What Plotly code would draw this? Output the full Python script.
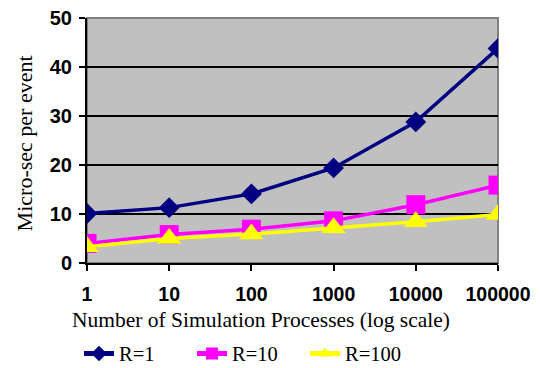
import plotly.graph_objects as go

categories = ["1", "10", "100", "1000", "10000", "100000"]
r1 = [10.1, 11.3, 14.1, 19.4, 28.8, 43.8]
r10 = [4.0, 5.8, 6.9, 8.6, 11.9, 15.9]
r100 = [3.3, 5.0, 5.9, 7.2, 8.4, 9.9]
y_ticks = [0, 10, 20, 30, 40, 50]

fig = go.Figure()
fig.add_trace(go.Scatter(x=categories, y=r1, name="R=1", mode="lines+markers",
                         line=dict(color="#000080", width=3.5),
                         marker=dict(symbol="diamond", size=16, color="#000080")))
fig.add_trace(go.Scatter(x=categories, y=r10, name="R=10", mode="lines+markers",
                         line=dict(color="#FF00FF", width=3.5),
                         marker=dict(symbol="square", size=19, color="#FF00FF")))
fig.add_trace(go.Scatter(x=categories, y=r100, name="R=100", mode="lines+markers",
                         line=dict(color="#FFFF00", width=3.5),
                         marker=dict(symbol="triangle-up", size=21, color="#FFFF00")))

fig.add_shape(type="rect", xref="paper", yref="paper", x0=0, x1=1, y0=0, y1=1,
              line=dict(color="#808080", width=2), layer="below")

serif = "Liberation Serif, Times New Roman, serif"
fig.add_annotation(text="Number of Simulation Processes (log scale)", xref="paper", yref="paper",
                   x=0.423, y=-0.233, xanchor="center", yanchor="middle", showarrow=False,
                   font=dict(family=serif, size=21.5, color="black"))
fig.add_annotation(text="Micro-sec per event", xref="paper", yref="paper",
                   x=-0.151, y=0.488, xanchor="center", yanchor="middle", showarrow=False,
                   textangle=-90, font=dict(family=serif, size=22, color="black"))

fig.update_layout(
    width=540, height=368,
    margin=dict(l=87, r=42, t=18, b=105, autoexpand=False),
    paper_bgcolor="white", plot_bgcolor="#C0C0C0",
    showlegend=True,
    legend=dict(orientation="h", x=0.393, xanchor="center", y=-0.37, yanchor="middle",
                font=dict(family=serif, size=20.5, color="black"),
                tracegroupgap=0, itemsizing="constant", entrywidth=68,
                bgcolor="rgba(0,0,0,0)"),
    xaxis=dict(type="category", range=[0, 5], showgrid=False, automargin=False,
               showline=True, linecolor="black", linewidth=2,
               ticks="outside", ticklen=6, tickwidth=1.5, tickcolor="black",
               ticklabelstandoff=7,
               tickfont=dict(family="Liberation Sans", size=19.5, color="black", weight="bold")),
    yaxis=dict(range=[0, 50], tickvals=y_ticks, showgrid=True, gridcolor="black", gridwidth=2,
               showline=True, linecolor="black", linewidth=2, zeroline=False, automargin=False,
               ticks="outside", ticklen=6, tickwidth=1.5, tickcolor="black",
               ticklabelstandoff=3,
               tickfont=dict(family="Liberation Sans", size=20, color="black", weight="bold")),
)

fig.write_html("out.html")
